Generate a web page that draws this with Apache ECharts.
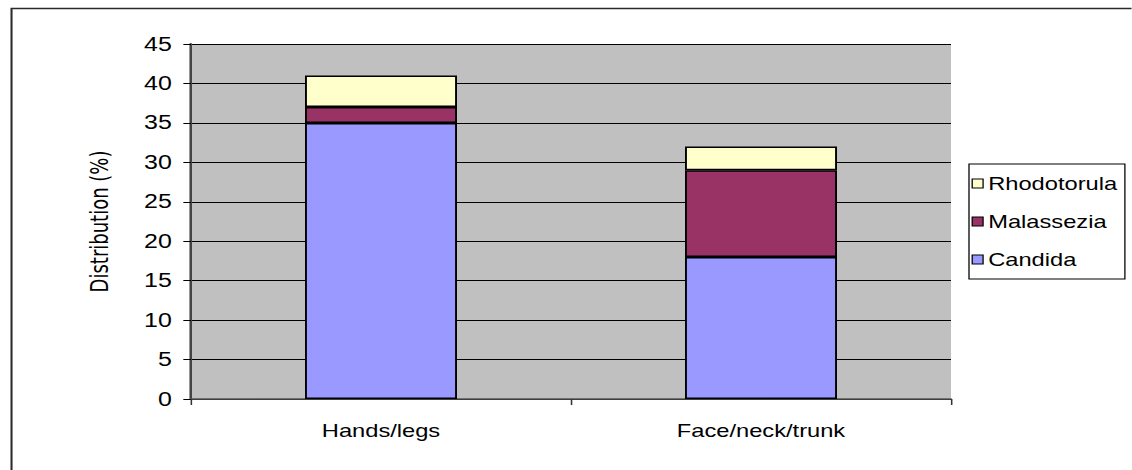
<!DOCTYPE html>
<html>
<head>
<meta charset="utf-8">
<script src="https://cdn.jsdelivr.net/npm/echarts@6/dist/echarts.min.js"></script>
<style>
  html, body { margin: 0; padding: 0; background: #ffffff; overflow: hidden; }
  #wrap { width: 1132px; height: 470px; overflow: hidden; position: relative; }
  /* chart is laid out in a narrower frame and widened horizontally */
  #chart { position: absolute; left: 0; top: 0; height: 470px; transform-origin: 0 0; }
</style>
</head>
<body>
<div id="wrap"><div id="chart"></div></div>
<script>
// Distribution (%) of yeast genera by body site
const categories = ['Hands/legs', 'Face/neck/trunk'];
const candida = [35, 18];
const malassezia = [2, 11];
const rhodotorula = [4, 3];
const yTicks = { min: 0, max: 45, interval: 5 };

const STRETCH = 1.28;
const W = 1132 / STRETCH;
const el = document.getElementById('chart');
el.style.width = W + 'px';
el.style.transform = 'scaleX(' + STRETCH + ')';

const chart = echarts.init(el, null, { renderer: 'svg', width: W, height: 470 });

const barBorder = { borderColor: '#000000', borderWidth: 1.5 };

chart.setOption({
  animation: false,
  backgroundColor: '#ffffff',
  textStyle: { fontFamily: 'Liberation Sans, Arial, sans-serif' },
  graphic: [{
    type: 'rect',
    left: 6.5, top: 6,
    shape: { width: W + 20, height: 500 },
    style: { fill: 'none', stroke: '#2a2a2a', lineWidth: 1.6 }
  }],
  grid: {
    left: 191 / STRETCH,
    width: (951 - 191) / STRETCH,
    top: 44,
    height: 355,
    show: true,
    backgroundColor: '#C0C0C0',
    borderWidth: 0
  },
  legend: {
    orient: 'vertical',
    left: 969 / STRETCH,
    top: 164,
    data: ['Rhodotorula', 'Malassezia', 'Candida'],
    icon: 'rect',
    itemWidth: 8.5,
    itemHeight: 9,
    itemGap: 19,
    padding: [10, 6, 10, 2],
    borderColor: '#000000',
    borderWidth: 1,
    backgroundColor: '#ffffff',
    itemStyle: { borderColor: '#000000', borderWidth: 1 },
    textStyle: { fontSize: 18.5, color: '#000000', padding: [0, 0, 0, -1],
                 fontFamily: 'Liberation Sans, Arial, sans-serif' }
  },
  xAxis: {
    type: 'category',
    data: categories,
    axisLine: { lineStyle: { color: '#555555', width: 1.5 } },
    axisTick: { show: true, length: 6, lineStyle: { color: '#333333', width: 1.2 } },
    axisLabel: { fontSize: 18.5, color: '#000000', margin: 22 }
  },
  yAxis: {
    type: 'value',
    min: yTicks.min,
    max: yTicks.max,
    interval: yTicks.interval,
    name: 'Distribution (%)',
    nameLocation: 'middle',
    nameGap: 62,
    nameRotate: 90,
    nameTextStyle: { fontSize: 20, color: '#000000', fontFamily: 'DejaVu Sans Condensed, DejaVu Sans, sans-serif' },
    axisLine: { show: true, lineStyle: { color: '#444444', width: 2 } },
    axisTick: { show: true, length: 6, lineStyle: { color: '#000000', width: 1 } },
    axisLabel: { fontSize: 19.5, color: '#000000', margin: 15 },
    splitLine: { show: true, lineStyle: { color: '#000000', width: 1 } }
  },
  series: [
    { name: 'Candida', type: 'bar', stack: 'total', barWidth: '40%', data: candida,
      itemStyle: Object.assign({ color: '#9999FF' }, barBorder) },
    { name: 'Malassezia', type: 'bar', stack: 'total', data: malassezia,
      itemStyle: Object.assign({ color: '#993366' }, barBorder) },
    { name: 'Rhodotorula', type: 'bar', stack: 'total', data: rhodotorula,
      itemStyle: Object.assign({ color: '#FFFFCC' }, barBorder) }
  ]
});
</script>
</body>
</html>
